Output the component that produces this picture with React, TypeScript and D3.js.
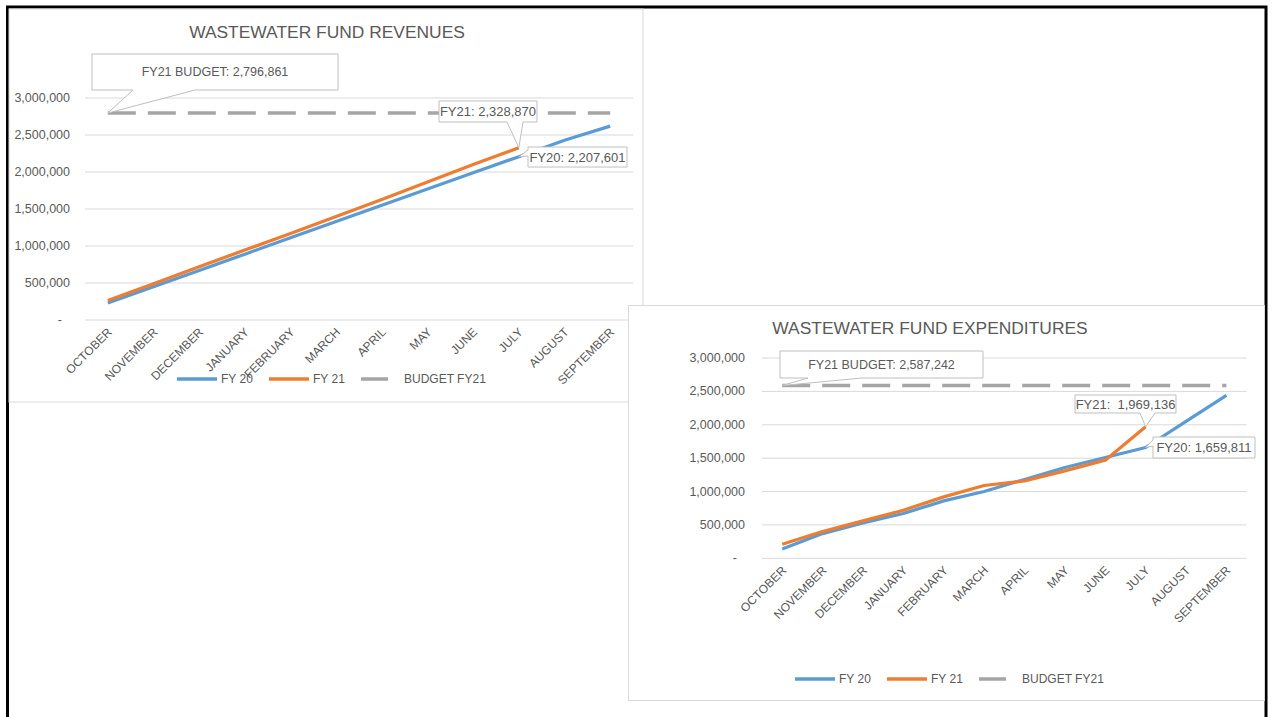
import React from "react";
import * as d3 from "d3";

const MONTHS = ["OCTOBER", "NOVEMBER", "DECEMBER", "JANUARY", "FEBRUARY", "MARCH", "APRIL", "MAY", "JUNE", "JULY", "AUGUST", "SEPTEMBER"];
const Y_TICKS = [0, 500000, 1000000, 1500000, 2000000, 2500000, 3000000];
const LEGEND = ["FY 20", "FY 21", "BUDGET FY21"];

// revenues
const REV_FY20 = [230000, 450000, 670000, 890000, 1110000, 1330000, 1550000, 1770000, 1990000, 2207601, 2430000, 2620000];
const REV_FY21 = [262000, 490000, 720000, 945000, 1170000, 1400000, 1630000, 1865000, 2100000, 2328870];
const REV_BUDGET = 2796861;

// expenditures
const EXP_FY20 = [140000, 370000, 530000, 670000, 860000, 1000000, 1180000, 1360000, 1510000, 1659811, 2050000, 2440000];
const EXP_FY21 = [210000, 400000, 560000, 720000, 920000, 1090000, 1160000, 1310000, 1470000, 1969136];
const EXP_BUDGET = 2587242;

const BLUE = "#5B9BD5";
const ORANGE = "#ED7D31";
const GRAY = "#A5A5A5";
const TXT = "#595959";
const GRID = "#D9D9D9";
const FONT = "'Liberation Sans', Arial, sans-serif";

const fmt = d3.format(",");

function calloutPath(bx, by, w, h, side, a, b, px, py) {
  if (side === "bottom") {
    return `M${bx},${by}L${bx + w},${by}L${bx + w},${by + h}L${b},${by + h}L${px},${py}L${a},${by + h}L${bx},${by + h}Z`;
  }
  return `M${bx},${by}L${bx + w},${by}L${bx + w},${by + h}L${bx},${by + h}L${bx},${b}L${px},${py}L${bx},${a}Z`;
}

function Chart(p) {
  const x = d3.scaleBand<string>().domain(MONTHS).range([p.left, p.right]);
  const cx = (i: number) => (x(MONTHS[i]) as number) + x.bandwidth() / 2;
  const y = d3.scaleLinear().domain([0, 3000000]).range([p.y0, p.y3m]);
  const line = d3.line<number>().x((_, i) => cx(i)).y(d => y(d));
  const series = { fy20: p.fy20, fy21: p.fy21 };
  const lx = p.legendX;

  return (
    <g fontFamily={FONT}>
      <text x={p.titleX} y={p.titleY} textAnchor="middle" dominantBaseline="central" fontSize={17.4} fill={TXT}>{p.title}</text>
      {Y_TICKS.map(t => (
        <g key={t}>
          <line x1={p.left} x2={p.right} y1={y(t)} y2={y(t)} stroke={GRID} strokeWidth={1} />
          <text x={t === 0 ? p.labelX - 8 : p.labelX} y={y(t)} textAnchor="end" dominantBaseline="central" fontSize={12.5} fill={TXT}>
            {t === 0 ? "-" : fmt(t)}
          </text>
        </g>
      ))}
      {MONTHS.map((m, i) => (
        <text key={m} transform={`translate(${cx(i) + 2},${p.y0 + 10}) rotate(-45)`} textAnchor="end" dominantBaseline="central" fontSize={12} fill={TXT}>{m}</text>
      ))}
      <line x1={cx(0)} x2={cx(11)} y1={y(p.budget)} y2={y(p.budget)} stroke={GRAY} strokeWidth={3.5} strokeDasharray="28 12" />
      <path d={line(p.fy20) || ""} fill="none" stroke={BLUE} strokeWidth={3.2} strokeLinejoin="round" />
      <path d={line(p.fy21) || ""} fill="none" stroke={ORANGE} strokeWidth={3.2} strokeLinejoin="round" />
      {p.callouts.map((c, k) => {
        const px = cx(c.idx);
        const py = c.series === "budget" ? y(p.budget) : y(series[c.series][c.idx]);
        return (
          <g key={k}>
            <path d={calloutPath(c.box[0], c.box[1], c.box[2], c.box[3], c.side, c.a, c.b, px, py)} fill="#fff" stroke="#BFBFBF" strokeWidth={1} />
            <text x={c.box[0] + c.box[2] / 2} y={c.box[1] + c.box[3] / 2} textAnchor="middle" dominantBaseline="central" fontSize={c.fs} fill={TXT} style={{ whiteSpace: "pre" }}>{c.text}</text>
          </g>
        );
      })}
      <g>
        <line x1={lx} x2={lx + 40} y1={p.legendY} y2={p.legendY} stroke={BLUE} strokeWidth={3.5} />
        <text x={lx + 44} y={p.legendY} dominantBaseline="central" fontSize={12} fill={TXT}>{LEGEND[0]}</text>
        <line x1={lx + 92} x2={lx + 132} y1={p.legendY} y2={p.legendY} stroke={ORANGE} strokeWidth={3.5} />
        <text x={lx + 136} y={p.legendY} dominantBaseline="central" fontSize={12} fill={TXT}>{LEGEND[1]}</text>
        <line x1={lx + 184} x2={lx + 211} y1={p.legendY} y2={p.legendY} stroke={GRAY} strokeWidth={3.5} />
        <text x={lx + 227} y={p.legendY} dominantBaseline="central" fontSize={12} fill={TXT}>{LEGEND[2]}</text>
      </g>
    </g>
  );
}

export default function App() {
  return (
    <div style={{ position: "absolute", left: 0, top: 0 }}>
      <svg width={1275} height={717} style={{ display: "block", background: "#fff" }}>
        <rect x={7.5} y={7} width={1258.5} height={730} fill="#fff" stroke="#000" strokeWidth={3} />
        <rect x={9} y={9} width={634} height={393} fill="#fff" stroke={GRID} strokeWidth={1} />
        <Chart
          title="WASTEWATER FUND REVENUES"
          titleX={327} titleY={32}
          left={85} right={633} y0={320} y3m={98} labelX={70}
          fy20={REV_FY20} fy21={REV_FY21} budget={REV_BUDGET}
          legendX={177} legendY={379}
          callouts={[
            { text: "FY21 BUDGET: 2,796,861", box: [92, 54, 246, 36], side: "bottom", a: 133, b: 195, series: "budget", idx: 0, fs: 12.5 },
            { text: "FY21: 2,328,870", box: [439, 101, 98, 21], side: "bottom", a: 507, b: 523, series: "fy21", idx: 9, fs: 13 },
            { text: "FY20: 2,207,601", box: [528, 147, 99, 20], side: "left", a: 150, b: 156, series: "fy20", idx: 9, fs: 13 },
          ]}
        />
        <rect x={628.5} y={305.5} width={636} height={395} fill="#fff" stroke={GRID} strokeWidth={1} />
        <Chart
          title="WASTEWATER FUND EXPENDITURES"
          titleX={930} titleY={328}
          left={762} right={1246.6} y0={558.3} y3m={358} labelX={745}
          fy20={EXP_FY20} fy21={EXP_FY21} budget={EXP_BUDGET}
          legendX={795} legendY={679}
          callouts={[
            { text: "FY21 BUDGET: 2,587,242", box: [780, 351, 203, 27], side: "bottom", a: 808, b: 862, series: "budget", idx: 0, fs: 12.5 },
            { text: "FY21:  1,969,136", box: [1075, 395, 101, 18], side: "bottom", a: 1140, b: 1155, series: "fy21", idx: 9, fs: 13 },
            { text: "FY20: 1,659,811", box: [1153, 437, 102, 21], side: "left", a: 440, b: 446, series: "fy20", idx: 9, fs: 13 },
          ]}
        />
      </svg>
    </div>
  );
}
